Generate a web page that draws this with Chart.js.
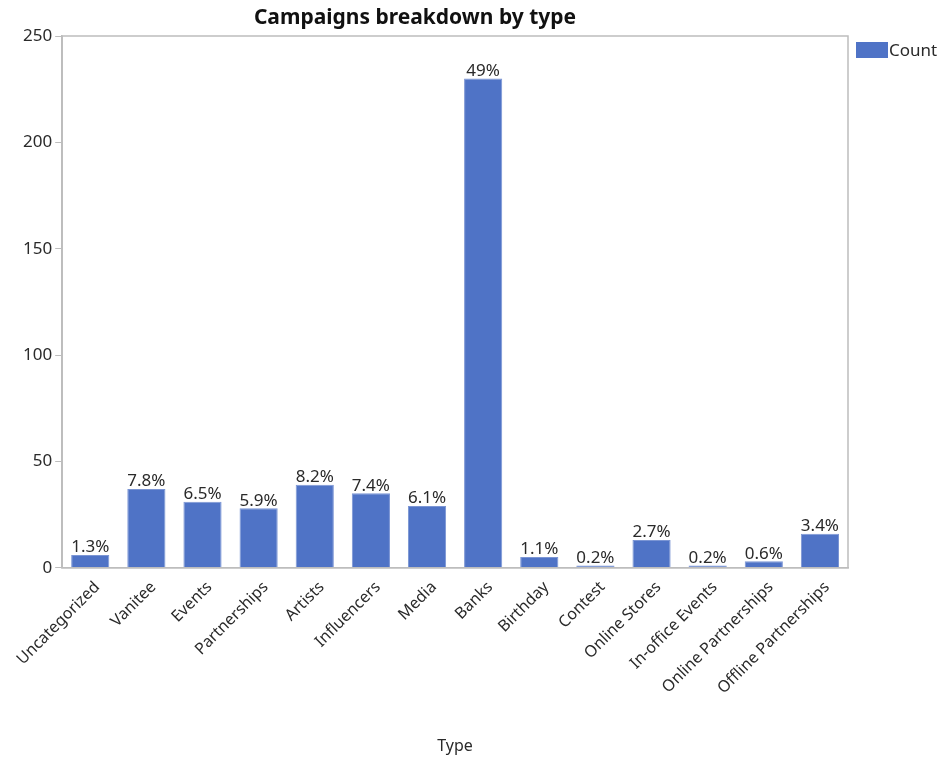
<!DOCTYPE html>
<html>
<head>
<meta charset="utf-8">
<title>Campaigns breakdown by type</title>
<script src="https://cdn.jsdelivr.net/npm/chart.js@4/dist/chart.umd.min.js"></script>
<style>
  html, body { margin: 0; padding: 0; background: #fff; }
  #wrap { width: 944px; height: 758px; }
</style>
</head>
<body>
<div id="wrap"><canvas id="chart" width="944" height="758"></canvas></div>
<script>
// campaign types and how many campaigns fall in each
const types = [
  "Uncategorized", "Vanitee", "Events", "Partnerships", "Artists",
  "Influencers", "Media", "Banks", "Birthday", "Contest",
  "Online Stores", "In-office Events", "Online Partnerships", "Offline Partnerships"
];
const counts = [6, 37, 31, 28, 39, 35, 29, 230, 5, 1, 13, 1, 3, 16];
const yTicks = [0, 50, 100, 150, 200, 250];

const FONT = "'Noto Sans', 'Open Sans', sans-serif";
const BAR = "#4f73c6";
const INK = "#2a2a2a";
const total = counts.reduce((a, b) => a + b, 0);

function pctLabel(v) {
  const p = v / total * 100;
  return (p >= 10 ? Math.round(p) : p.toFixed(1)) + "%";
}

// percentage above every bar
const barLabels = {
  id: "barLabels",
  afterDatasetsDraw(chart) {
    const ctx = chart.ctx;
    const meta = chart.getDatasetMeta(0);
    ctx.save();
    ctx.font = "17px " + FONT;
    ctx.fillStyle = INK;
    ctx.textAlign = "center";
    ctx.textBaseline = "bottom";
    meta.data.forEach((bar, i) => {
      ctx.fillText(pctLabel(counts[i]), bar.x, bar.y + 1);
    });
    ctx.restore();
  }
};

// box round the plot, title and the small legend on the right
const frame = {
  id: "frame",
  afterDraw(chart) {
    const { ctx, chartArea: a } = chart;
    ctx.save();
    ctx.strokeStyle = "#bdbdbd";
    ctx.lineWidth = 1.5;
    ctx.strokeRect(a.left, a.top, a.right - a.left, a.bottom - a.top);

    ctx.fillStyle = "#111";
    ctx.font = "bold 21px " + FONT;
    ctx.textAlign = "center";
    ctx.textBaseline = "middle";
    ctx.fillText("Campaigns breakdown by type", 415, 18);

    ctx.fillStyle = BAR;
    ctx.fillRect(856, 42, 32, 16);
    ctx.fillStyle = INK;
    ctx.font = "17px " + FONT;
    ctx.textAlign = "left";
    ctx.fillText("Count", 889, 51);
    ctx.restore();
  }
};

new Chart(document.getElementById("chart"), {
  type: "bar",
  data: {
    labels: types,
    datasets: [{
      label: "Count",
      data: counts,
      backgroundColor: BAR,
      borderColor: "#7b95d4",
      borderWidth: 1,
      barPercentage: 0.85,
      categoryPercentage: 0.8
    }]
  },
  options: {
    responsive: false,
    animation: false,
    layout: { padding: { left: 20, right: 96, top: 36, bottom: 0 } },
    plugins: { legend: { display: false }, tooltip: { enabled: false } },
    scales: {
      x: {
        grid: { display: false },
        border: { color: "#bdbdbd", width: 1.5 },
        ticks: {
          color: INK,
          font: { family: FONT, size: 16 },
          maxRotation: 45,
          minRotation: 45,
          labelOffset: 7,
          padding: 2
        },
        title: {
          display: true,
          text: "Type",
          color: INK,
          font: { family: FONT, size: 16 },
          padding: { top: 37, bottom: 2 }
        }
      },
      y: {
        min: 0,
        max: 250,
        afterBuildTicks(axis) { axis.ticks = yTicks.map(v => ({ value: v })); },
        grid: { drawOnChartArea: false, color: "#bdbdbd", tickLength: 7 },
        border: { color: "#bdbdbd", width: 1.5 },
        ticks: {
          color: INK,
          font: { family: FONT, size: 17 },
          padding: 3
        }
      }
    }
  },
  plugins: [barLabels, frame]
});
</script>
</body>
</html>
